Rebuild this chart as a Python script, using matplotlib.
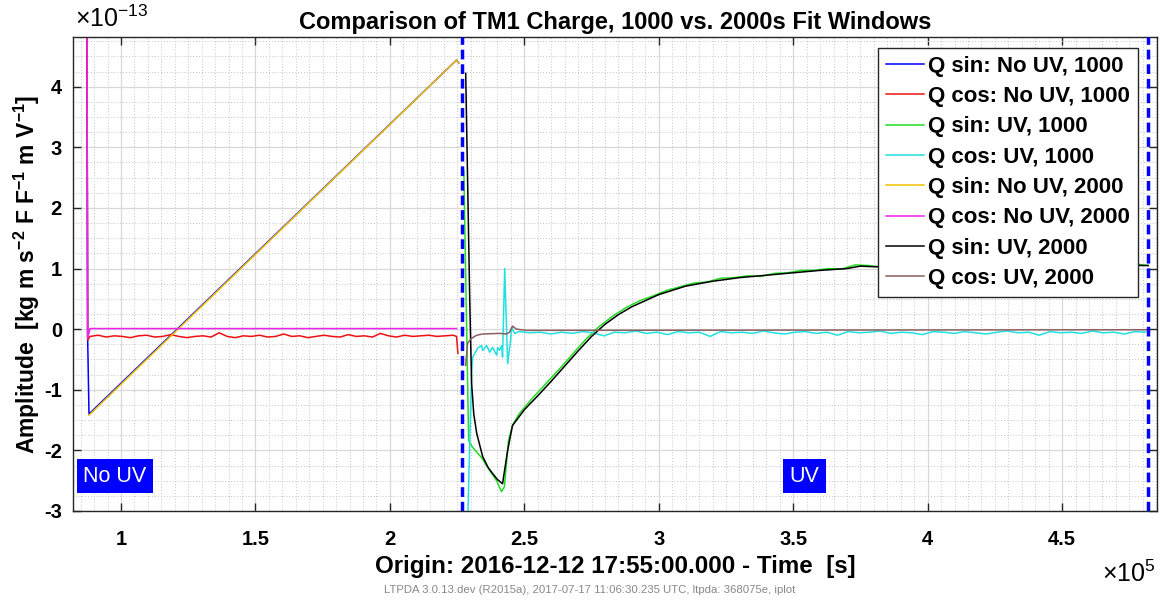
import matplotlib
matplotlib.use("Agg")
import matplotlib.pyplot as plt
import numpy as np
from matplotlib.ticker import MultipleLocator

plt.rcParams["font.family"] = ["Liberation Sans", "DejaVu Sans"]
plt.rcParams["mathtext.fontset"] = "custom"
plt.rcParams["mathtext.rm"] = "Liberation Sans"
plt.rcParams["mathtext.bf"] = "Liberation Sans:bold"
plt.rcParams["mathtext.default"] = "regular"
plt.rcParams["axes.unicode_minus"] = False

# time in units of 1e5 s, amplitude in units of 1e-13
blue_t = [0.870, 0.876, 0.881, 2.248, 2.256]
blue_q = [12.0, -0.15, -1.40, 4.44, 4.39]

yellow_t = [0.881, 2.248, 2.256]
yellow_q = [-1.42, 4.44, 4.39]

magenta_t = [0.870, 0.876, 0.885, 2.248]
magenta_q = [12.0, -0.15, 0.01, 0.01]

red_head_t = [0.870, 0.876]
red_head_q = [12.0, -0.18]
red_noise_q = [-0.12, -0.10, -0.13, -0.11, -0.12, -0.14, -0.11, -0.10, -0.13, -0.12,
               -0.09, -0.12, -0.14, -0.12, -0.11, -0.13, -0.06, -0.12, -0.14, -0.11,
               -0.12, -0.10, -0.13, -0.12, -0.08, -0.12, -0.11, -0.14, -0.12, -0.10,
               -0.12, -0.13, -0.09, -0.12, -0.11, -0.13, -0.07, -0.11, -0.13, -0.10,
               -0.12, -0.11, -0.10, -0.12, -0.11, -0.10]
red_noise_t = np.linspace(0.885, 2.235, len(red_noise_q))
red_tail_t = [2.248, 2.253]
red_tail_q = [-0.12, -0.40]

green_head_t = [2.275, 2.293, 2.308, 2.341, 2.371, 2.397, 2.415, 2.426, 2.441, 2.456]
green_head_q = [2.62, -1.84, -1.95, -2.12, -2.33, -2.50, -2.68, -2.60, -1.84, -1.59]
green_tail_q = [-1.40, -1.14, -0.90, -0.66, -0.41, -0.16, 0.05, 0.22, 0.36, 0.47,
                0.55, 0.64, 0.70, 0.76, 0.78, 0.84, 0.85, 0.88, 0.87, 0.92,
                0.93, 0.97, 0.97, 1.00, 0.99, 1.06, 1.05, 1.02, 1.05, 1.03,
                1.06, 1.04, 1.06, 1.05, 1.07, 1.05, 1.08, 1.06, 1.07, 1.05,
                1.08, 1.06, 1.07, 1.05, 1.07, 1.06, 1.07]
green_tail_t = np.linspace(2.48, 4.78, len(green_tail_q))
green_end_t = [4.82]
green_end_q = [1.05]

black_t = [2.282, 2.297, 2.304, 2.312, 2.323, 2.345, 2.365, 2.382, 2.40, 2.419,
           2.438, 2.456, 2.50, 2.55, 2.60, 2.65, 2.70, 2.75, 2.80, 2.85,
           2.90, 2.95, 3.00, 3.10, 3.20, 3.30, 3.40, 3.50, 3.60, 3.70,
           3.75, 3.80, 3.90, 4.00, 4.10, 4.20, 4.30, 4.40, 4.50, 4.60,
           4.70, 4.80, 4.82]
black_q = [4.22, 0.48, -0.90, -1.40, -1.72, -2.10, -2.28, -2.38, -2.48, -2.55,
           -2.00, -1.59, -1.33, -1.10, -0.86, -0.61, -0.36, -0.12, 0.08, 0.24,
           0.37, 0.47, 0.57, 0.71, 0.79, 0.85, 0.89, 0.93, 0.97, 1.00,
           1.04, 1.03, 1.04, 1.05, 1.05, 1.06, 1.07, 1.06, 1.07, 1.06,
           1.06, 1.05, 1.05]

cyan_head_t = [2.288, 2.304, 2.308, 2.327, 2.341, 2.345, 2.360, 2.371, 2.382, 2.397,
               2.401, 2.408, 2.416, 2.419, 2.427, 2.438, 2.449, 2.453, 2.464]
cyan_head_q = [-3.40, -0.73, -0.46, -0.31, -0.27, -0.35, -0.27, -0.38, -0.30, -0.43,
               -0.30, -0.35, -0.27, -0.46, 1.00, -0.57, -0.18, 0.03, -0.07]
cyan_tail_q = [-0.04, -0.06, -0.05, -0.08, -0.05, -0.07, -0.04, -0.06, -0.11, -0.05,
               -0.06, -0.03, -0.07, -0.05, -0.09, -0.04, -0.06, -0.05, -0.12, -0.04,
               -0.06, -0.05, -0.07, -0.03, -0.06, -0.08, -0.05, -0.04, -0.07, -0.05,
               -0.10, -0.04, -0.06, -0.05, -0.03, -0.07, -0.05, -0.06, -0.09, -0.04,
               -0.05, -0.07, -0.04, -0.06, -0.08, -0.05, -0.03, -0.06, -0.05, -0.10,
               -0.04, -0.06, -0.05, -0.07, -0.03, -0.06, -0.05, -0.08, -0.04, -0.05]
cyan_tail_t = np.linspace(2.48, 4.81, len(cyan_tail_q))

brown_t = [2.282, 2.289, 2.304, 2.323, 2.345, 2.408, 2.434, 2.445, 2.456, 2.471, 2.509, 4.82]
brown_q = [-0.60, -0.23, -0.15, -0.10, -0.08, -0.07, -0.08, -0.05, 0.05, 0.00, -0.02, -0.01]

uv_switch = [2.267, 4.82]

red_t = np.concatenate([red_head_t, red_noise_t, red_tail_t])
red_q = np.concatenate([red_head_q, red_noise_q, red_tail_q])
green_t = np.concatenate([green_head_t, green_tail_t, green_end_t])
green_q = np.concatenate([green_head_q, green_tail_q, green_end_q])
cyan_t = np.concatenate([cyan_head_t, cyan_tail_t])
cyan_q = np.concatenate([cyan_head_q, cyan_tail_q])

W, H = 1163, 601
fig = plt.figure(figsize=(W / 100, H / 100), dpi=100)
ax = fig.add_axes([73 / W, (H - 511) / H, 1084 / W, 474 / H])

lw = 1.1
ax.plot(blue_t, blue_q, color="#0000ff", lw=lw, label="Q sin: No UV, 1000")
ax.plot(red_t, red_q, color="#ee1111", lw=lw, label="Q cos: No UV, 1000")
ax.plot(green_t, green_q, color="#22dd22", lw=lw, label="Q sin: UV, 1000")
ax.plot(cyan_t, cyan_q, color="#22e0e0", lw=lw, label="Q cos: UV, 1000")
ax.plot(yellow_t, yellow_q, color="#f0c000", lw=lw, label="Q sin: No UV, 2000")
ax.plot(magenta_t, magenta_q, color="#ee22ee", lw=lw, label="Q cos: No UV, 2000")
ax.plot(black_t, black_q, color="#000000", lw=lw, label="Q sin: UV, 2000")
ax.plot(brown_t, brown_q, color="#8b5f5f", lw=lw, label="Q cos: UV, 2000")

for xv in uv_switch:
    ax.axvline(xv, color="#0000ff", lw=2.5, ls=(0, (2.8, 1.4)), zorder=5)

ax.set_xlim(0.8215, 4.853)
ax.set_ylim(-3, 4.82)
ax.set_xticks([1, 1.5, 2, 2.5, 3, 3.5, 4, 4.5])
ax.set_xticklabels(["1", "1.5", "2", "2.5", "3", "3.5", "4", "4.5"])
ax.set_yticks([-3, -2, -1, 0, 1, 2, 3, 4])
ax.xaxis.set_minor_locator(MultipleLocator(0.05))
ax.yaxis.set_minor_locator(MultipleLocator(0.25))
ax.grid(which="major", color="#d8d8d8", lw=0.9)
ax.grid(which="minor", color="#c4c4c4", lw=0.7, ls=(0, (1, 2)))
ax.set_axisbelow(True)
ax.tick_params(which="major", direction="in", top=True, right=True, length=6,
               width=1, color="#262626", labelsize=14.5)
ax.tick_params(which="minor", length=0)
ax.tick_params(axis="x", pad=14)
ax.tick_params(axis="y", pad=8)
for lab in ax.get_xticklabels() + ax.get_yticklabels():
    lab.set_fontweight("bold")
for sp in ax.spines.values():
    sp.set_color("#262626")
    sp.set_linewidth(1.0)

ax.set_title("Comparison of TM1 Charge, 1000 vs. 2000s Fit Windows",
             fontsize=17, fontweight="bold", pad=6)
ax.set_xlabel("Origin: 2016-12-12 17:55:00.000 - Time  [s]", fontsize=17.4, fontweight="bold")
ax.xaxis.set_label_coords(0.5, -0.092)
ax.set_ylabel(r"Amplitude  [kg m s$^{\mathbf{-2}}$ F F$^{\mathbf{-1}}$ m V$^{\mathbf{-1}}$]",
              fontsize=16.5, fontweight="bold")
ax.yaxis.set_label_coords(-0.029, 0.5)

fig.text(75 / W, 1 - 32 / H, r"$\times$10$^{-13}$", fontsize=18, ha="left", va="bottom")
fig.text(1156 / W, 1 - 587 / H, r"$\times$10$^{5}$", fontsize=18, ha="right", va="bottom")

ax.text(0.978, -2.43, "No UV", color="white", fontsize=15.5, ha="center", va="center",
        bbox=dict(boxstyle="square,pad=0.3", fc="#0000ff", ec="none"), zorder=6)
ax.text(3.541, -2.43, "UV", color="white", fontsize=15.5, ha="center", va="center",
        bbox=dict(boxstyle="square,pad=0.3", fc="#0000ff", ec="none"), zorder=6)

leg = ax.legend(loc="upper right", bbox_to_anchor=(0.9825, 0.977), borderaxespad=0,
                fancybox=False, edgecolor="#262626", framealpha=1,
                prop={"size": 16, "weight": "bold"}, handlelength=1.7,
                handletextpad=0.2, labelspacing=0.42, borderpad=0.35)
leg.get_frame().set_linewidth(1.0)
leg.set_zorder(10)

fig.text(590 / W, 1 - 590 / H,
         "LTPDA 3.0.13.dev (R2015a), 2017-07-17 11:06:30.235 UTC, ltpda: 368075e, iplot",
         fontsize=8.2, color="#888888", ha="center", va="center")

fig.savefig("out.png", dpi=100)
